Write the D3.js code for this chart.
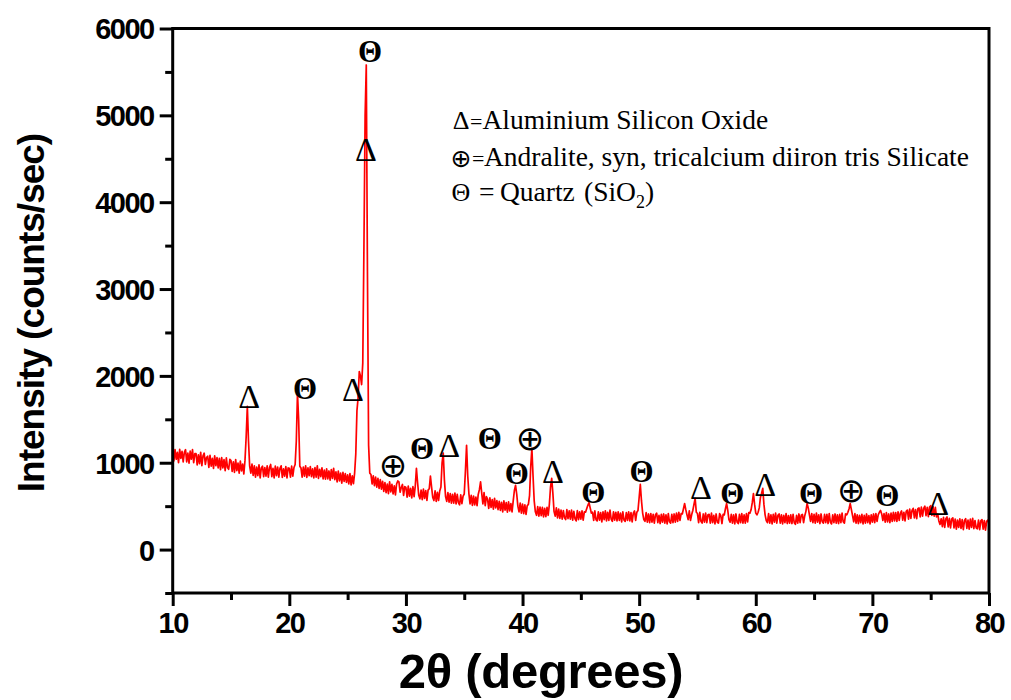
<!DOCTYPE html>
<html>
<head>
<meta charset="utf-8">
<script src="https://cdn.jsdelivr.net/npm/d3@7"></script>
<style>
  body { margin: 0; background: #fff; }
  svg { display: block; }
</style>
</head>
<body>
<script>
// scan grid: 2theta from 10 to 80 deg, step 0.1
const scanStart = 10;
const scanStep = 0.1;

// intensity (counts/sec), one row per degree (x.0 ... x.9)
const counts = [
  1140,1020,1150,1040,1120,1000,1155,1050,1130,1010, // 10
  1120,1150,1010,1110,995,1135,1040,1150,1000,1105,  // 11
  1105,975,1090,990,1120,965,1080,1110,980,1060,     // 12
  1075,945,1085,960,1050,935,1080,965,1060,940,      // 13
  1050,920,1060,940,1035,910,1055,945,925,1040,      // 14
  1025,900,1010,890,1035,910,995,880,1020,905,       // 15
  985,870,1030,1300,1650,1250,960,880,985,855,       // 16
  965,835,950,850,975,825,940,960,840,945,           // 17
  845,965,835,945,980,840,935,825,960,850,           // 18
  950,835,935,965,830,930,845,955,825,940,           // 19
  935,835,960,845,945,980,1250,1800,1500,960,        // 20
  940,835,950,845,965,830,940,850,955,840,           // 21
  930,825,945,835,965,820,925,840,940,815,           // 22
  915,810,930,815,905,800,920,820,935,805,           // 23
  895,780,905,790,880,765,890,785,875,775,           // 24
  860,755,875,745,850,760,880,1100,1600,1750,        // 25
  2050,2000,1900,2150,3500,5000,5580,3200,1200,880,  // 26
  865,755,850,735,835,720,820,705,805,695,           // 27
  785,670,770,655,755,645,780,665,750,640,           // 28
  735,630,755,790,780,660,715,750,625,725,           // 29
  715,605,730,615,705,595,725,610,730,935,           // 30
  770,625,585,685,575,695,590,680,565,685,           // 31
  700,845,720,600,565,675,555,660,565,675,           // 32
  720,1000,1110,800,610,555,655,545,645,535,         // 33
  635,535,650,525,635,540,515,630,530,615,           // 34
  640,900,1200,850,645,525,625,510,615,515,          // 35
  605,505,635,690,780,650,525,655,505,610,           // 36
  580,475,595,485,575,465,590,480,565,460,           // 37
  555,450,545,435,560,455,540,430,550,445,           // 38
  530,435,560,680,740,640,500,435,535,420,           // 39
  525,415,515,405,505,520,620,950,1165,850,          // 40
  560,435,395,495,385,490,390,485,375,475,           // 41
  380,485,395,520,720,820,650,440,385,480,           // 42
  365,465,360,455,350,450,365,345,460,355,           // 43
  445,350,455,340,440,355,330,450,345,435,           // 44
  350,445,340,435,430,470,510,540,480,420,           // 45
  430,335,445,345,330,435,340,425,320,435,           // 46
  345,445,330,430,335,455,350,325,435,340,           // 47
  430,330,435,335,420,320,435,340,325,425,           // 48
  335,435,330,425,320,420,445,335,430,450,           // 49
  600,750,560,420,345,325,425,315,410,310,           // 50
  415,315,405,305,400,420,310,395,300,405,           // 51
  315,410,305,400,295,415,320,305,405,310,           // 52
  410,315,420,325,430,335,415,410,470,530,           // 53
  460,400,345,445,335,400,450,520,590,430,           // 54
  415,310,430,325,305,410,315,420,310,400,           // 55
  405,305,420,310,395,295,410,315,305,415,           // 56
  390,300,405,400,470,530,450,345,315,405,           // 57
  305,400,295,410,315,300,405,310,415,305,           // 58
  400,305,415,320,425,420,460,540,645,520,           // 59
  420,400,430,480,600,650,705,520,400,335,           // 60
  310,415,305,400,295,405,315,420,305,395,           // 61
  410,305,400,295,395,310,415,300,390,305,           // 62
  400,300,405,310,290,395,305,410,310,395,           // 63
  405,310,390,440,530,480,400,325,415,310,           // 64
  405,305,420,315,400,300,410,320,305,405,           // 65
  310,405,300,415,315,295,400,310,410,305,           // 66
  400,300,405,310,420,320,305,410,400,430,           // 67
  470,530,460,390,320,415,305,400,300,395,           // 68
  310,405,295,395,305,410,310,390,295,400,           // 69
  315,410,310,415,325,400,430,450,410,335,           // 70
  415,315,425,320,410,310,420,325,430,330,           // 71
  425,325,435,335,420,445,340,430,330,440,           // 72
  455,350,465,360,450,475,365,460,355,470,           // 73
  480,375,490,385,475,500,390,485,380,490,           // 74
  505,395,495,385,485,375,410,330,290,355,           // 75
  265,370,255,355,375,260,360,250,350,365,           // 76
  250,350,235,340,255,355,245,345,230,335,           // 77
  355,245,340,235,350,255,360,240,335,250,           // 78
  240,340,230,330,345,235,335,225,325,340,           // 79
  300                                                // 80
];

// phase markers: symbol, 2theta, intensity position
const markerSymbols = ["Δ","Θ","Δ","Θ","Δ","⊕","Θ","Δ","Θ","⊕","Θ","Δ","Θ","Θ","Δ","Θ","Δ","Θ","⊕","Θ","Δ"];
const markerAngles  = [16.55,21.35,25.45,26.92,26.58,28.9,31.38,33.7,37.2,40.65,39.5,42.6,46.07,50.2,55.3,57.98,60.8,64.75,68.18,71.27,75.65];
const markerLevels  = [1760,1850,1840,5730,4610,950,1160,1200,1275,1260,880,900,660,900,720,650,750,650,660,625,530];

const legendSymbols = ["Δ","⊕","Θ"];
const legendLabels = ["Aluminium Silicon Oxide", "Andralite, syn, tricalcium diiron tris Silicate", "Quartz"];

const xTicks = [10,20,30,40,50,60,70,80];
const yTicks = [0,1000,2000,3000,4000,5000,6000];

const W = 1011, H = 700;
const plotL = 172.7, plotR = 989, plotT = 28.5, plotB = 593;

const svg = d3.select("body").append("svg")
  .attr("width", W)
  .attr("height", H);

const x = d3.scaleLinear().domain([10, 80]).range([plotL, plotR]);
const y = d3.scaleLinear().domain([-500, 6000]).range([plotB, plotT]);

const data = counts.map((c, i) => ({ t: scanStart + i * scanStep, c: c }));

// clip
svg.append("clipPath").attr("id", "plot")
  .append("rect").attr("x", plotL).attr("y", plotT)
  .attr("width", plotR - plotL).attr("height", plotB - plotT);

// pattern
svg.append("path")
  .datum(data)
  .attr("clip-path", "url(#plot)")
  .attr("fill", "none")
  .attr("stroke", "#ff0000")
  .attr("stroke-width", 1.7)
  .attr("stroke-linejoin", "round")
  .attr("d", d3.line().x(d => x(d.t)).y(d => y(d.c)));

// axes
const tickFont = g => g.selectAll("text")
  .attr("font-family", "Liberation Sans, Arial, sans-serif")
  .attr("font-weight", "bold")
  .attr("font-size", 29)
  .attr("letter-spacing", -1.5)
  .attr("fill", "#000");

const yMinor = d3.range(-500, 6001, 1000);
const xMinor = d3.range(15, 80, 10);

const gy = svg.append("g").attr("transform", `translate(${plotL},0)`);
gy.call(d3.axisLeft(y).tickValues(yTicks).tickSize(13).tickPadding(6).tickFormat(d3.format("d")));
gy.append("g").call(d3.axisLeft(y).tickValues(yMinor).tickSize(7.5).tickFormat(""));
gy.selectAll(".domain").remove();
gy.selectAll("line").attr("stroke", "#000").attr("stroke-width", 3);
gy.call(tickFont);
gy.selectAll("text").attr("dy", "0.36em");

const gx = svg.append("g").attr("transform", `translate(0,${plotB})`);
gx.call(d3.axisBottom(x).tickValues(xTicks).tickSize(13).tickPadding(6));
gx.append("g").call(d3.axisBottom(x).tickValues(xMinor).tickSize(7).tickFormat(""));
gx.selectAll(".domain").remove();
gx.selectAll("line").attr("stroke", "#000").attr("stroke-width", 3);
gx.call(tickFont);

// frame
svg.append("rect")
  .attr("x", plotL).attr("y", plotT)
  .attr("width", plotR - plotL).attr("height", plotB - plotT)
  .attr("fill", "none").attr("stroke", "#000").attr("stroke-width", 3);

// axis titles
svg.append("text")
  .attr("transform", "translate(44,313) rotate(-90)")
  .attr("text-anchor", "middle")
  .attr("font-family", "Liberation Sans, Arial, sans-serif")
  .attr("font-weight", "bold")
  .attr("font-size", 37)
  .attr("letter-spacing", -1)
  .text("Intensity (counts/sec)");

svg.append("text")
  .attr("x", 541).attr("y", 688)
  .attr("text-anchor", "middle")
  .attr("font-family", "Liberation Sans, Arial, sans-serif")
  .attr("font-weight", "bold")
  .attr("font-size", 49)
  .attr("letter-spacing", -0.3)
  .text("2θ (degrees)");

// peak markers
const markers = markerSymbols.map((s, i) => ({ s: s, t: markerAngles[i], v: markerLevels[i] }));
svg.append("g").selectAll("text")
  .data(markers)
  .join("text")
  .attr("x", d => x(d.t))
  .attr("y", d => y(d.v))
  .attr("dy", d => d.s === "⊕" ? "0.3em" : "0.34em")
  .attr("text-anchor", "middle")
  .attr("font-family", d => d.s === "⊕" ? "DejaVu Sans, sans-serif" : "Liberation Serif, Times New Roman, serif")
  .attr("font-weight", d => d.s === "Θ" ? "bold" : "normal")
  .attr("font-size", d => d.s === "⊕" ? 34 : (d.s === "Θ" ? 31 : 34))
  .attr("fill", "#000")
  .text(d => d.s);

// legend
const lg = svg.append("g")
  .attr("font-family", "Liberation Serif, Times New Roman, serif")
  .attr("font-size", 27.5)
  .attr("fill", "#000");
const legendY = [129, 165.5, 200.5];
const eqX = [470, 472, 479];
const labX = [482.5, 484, 500];
legendSymbols.forEach((s, i) => {
  lg.append("text")
    .attr("x", 461).attr("y", s === "⊕" ? legendY[i] + 1 : legendY[i]).attr("text-anchor", "middle")
    .attr("font-family", s === "⊕" ? "DejaVu Sans, sans-serif" : null)
    .attr("font-size", s === "⊕" ? 25 : 26)
    .text(s);
  lg.append("text").attr("x", eqX[i]).attr("y", legendY[i]).attr("font-size", i === 2 ? 27.5 : 22).text("=");
  lg.append("text").attr("x", labX[i]).attr("y", legendY[i]).text(legendLabels[i]);
});
// "(SiO2)" after the wider gap in the quartz line
const sio = lg.append("text").attr("x", 584).attr("y", legendY[2]).text("(SiO");
sio.append("tspan").attr("dy", 7).attr("font-size", 18).text("2");
sio.append("tspan").attr("dy", -7).text(")");
</script>
</body>
</html>
